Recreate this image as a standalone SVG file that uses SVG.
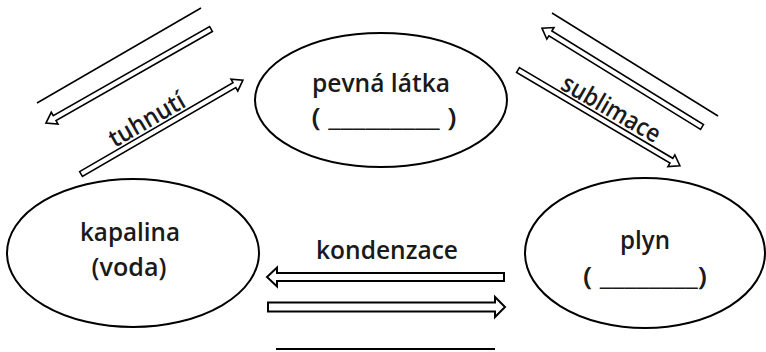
<svg xmlns="http://www.w3.org/2000/svg" width="766" height="352" viewBox="0 0 766 352">
<style>
.node{fill:#fff;stroke:#000;stroke-width:2}
.lbl{font-family:"Open Sans","Liberation Sans",sans-serif;font-weight:600;font-size:25px;fill:#1a1a1a;text-anchor:middle}
.arr{fill:#fff;stroke:#000;stroke-width:1.6;stroke-linejoin:miter}
.harr{fill:#fff;stroke:#000;stroke-width:2;stroke-linejoin:miter}
.ln{stroke:#000;stroke-width:1.5;fill:none}
</style>
<defs>
<path id="da" d="M0,-2.8 H180 V-6.8 L190,0 L180,6.8 V2.8 H0 Z"/>
</defs>
<rect width="766" height="352" fill="#fff"/>
<g id="connectors">
<line class="ln" x1="37" y1="103" x2="201" y2="8"/>
<use href="#da" class="arr" transform="translate(211,29) rotate(150.3)"/>
<use href="#da" class="arr" transform="translate(81,174) rotate(-30.1) scale(0.985,1)"/>
<line class="ln" x1="552" y1="13" x2="718" y2="116"/>
<use href="#da" class="arr" transform="translate(702,127) rotate(-148.3) scale(0.99,1)"/>
<use href="#da" class="arr" transform="translate(518,70) rotate(30.6) scale(0.99,1)"/>
<path class="harr" d="M504,273 H277 V267.5 L267,277 L277,286.5 V281 H504 Z"/>
<path class="harr" d="M268,302.5 H495 V297 L505,307 L495,317 V311.5 H268 Z"/>
<line x1="276" y1="349" x2="495" y2="349" stroke="#000" stroke-width="2"/>
<text class="lbl" x="0" y="0" transform="translate(151,127) rotate(-30)" textLength="84" lengthAdjust="spacingAndGlyphs">tuhnutí</text>
<text class="lbl" x="0" y="0" transform="translate(607,116) rotate(30)" textLength="110" lengthAdjust="spacingAndGlyphs">sublimace</text>
<text class="lbl" x="387" y="259" textLength="142" lengthAdjust="spacingAndGlyphs">kondenzace</text>
</g>
<g id="pevna">
<ellipse class="node" cx="381" cy="100" rx="126" ry="67"/>
<text class="lbl" x="381" y="92" textLength="138" lengthAdjust="spacingAndGlyphs">pevná látka</text>
<text class="lbl" x="384" y="126" textLength="145" lengthAdjust="spacingAndGlyphs">( _________ )</text>
</g>
<g id="kapalina">
<ellipse class="node" cx="133" cy="253" rx="126" ry="74"/>
<text class="lbl" x="130" y="241" textLength="100" lengthAdjust="spacingAndGlyphs">kapalina</text>
<text class="lbl" x="129" y="276" textLength="75" lengthAdjust="spacingAndGlyphs">(voda)</text>
</g>
<g id="plyn">
<ellipse class="node" cx="645" cy="253" rx="120" ry="75"/>
<text class="lbl" x="645" y="249" textLength="50" lengthAdjust="spacingAndGlyphs">plyn</text>
<text class="lbl" x="645" y="285" textLength="124" lengthAdjust="spacingAndGlyphs">( ________)</text>
</g>
</svg>
